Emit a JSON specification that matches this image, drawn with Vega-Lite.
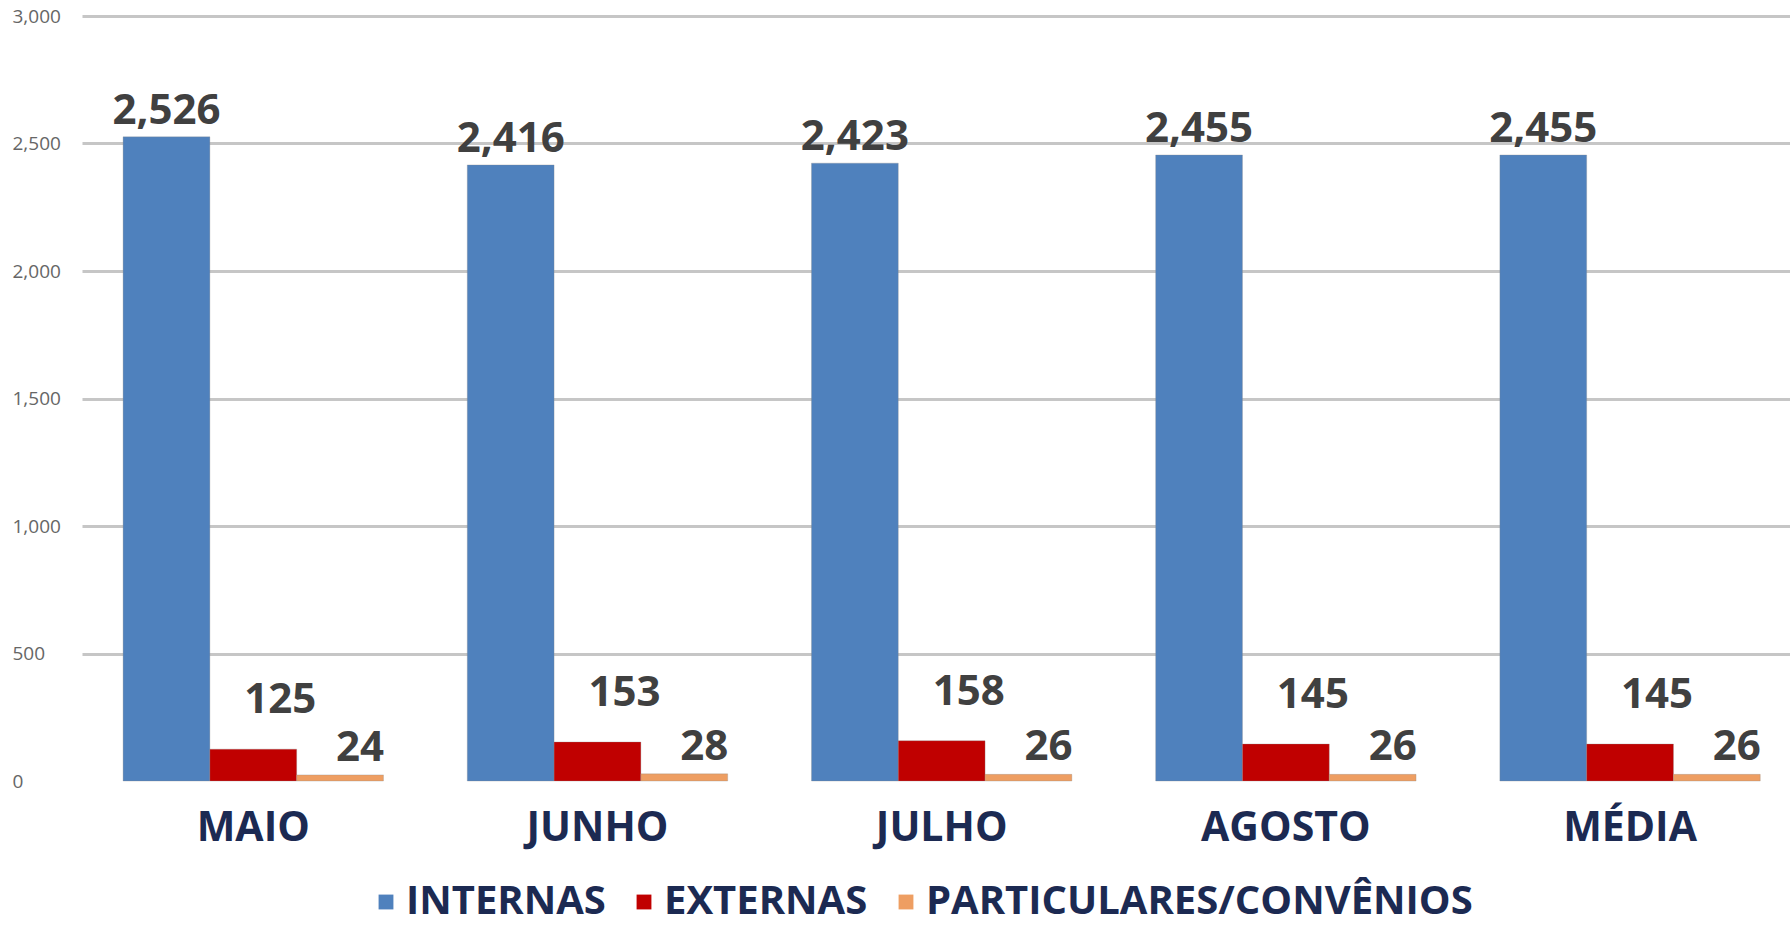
{
  "$schema": "https://vega.github.io/schema/vega-lite/v6.json",
  "width": 1708,
  "height": 765,
  "autosize": {"type": "none"},
  "padding": {"left": 82, "top": 16, "right": 0, "bottom": 151},
  "background": "white",
  "config": {
    "view": {"stroke": null},
    "font": "Open Sans"
  },
  "data": {
    "values": [
      {"mes": "MAIO", "serie": "INTERNAS", "valor": 2526},
      {"mes": "MAIO", "serie": "EXTERNAS", "valor": 125},
      {"mes": "MAIO", "serie": "PARTICULARES/CONVÊNIOS", "valor": 24},
      {"mes": "JUNHO", "serie": "INTERNAS", "valor": 2416},
      {"mes": "JUNHO", "serie": "EXTERNAS", "valor": 153},
      {"mes": "JUNHO", "serie": "PARTICULARES/CONVÊNIOS", "valor": 28},
      {"mes": "JULHO", "serie": "INTERNAS", "valor": 2423},
      {"mes": "JULHO", "serie": "EXTERNAS", "valor": 158},
      {"mes": "JULHO", "serie": "PARTICULARES/CONVÊNIOS", "valor": 26},
      {"mes": "AGOSTO", "serie": "INTERNAS", "valor": 2455},
      {"mes": "AGOSTO", "serie": "EXTERNAS", "valor": 145},
      {"mes": "AGOSTO", "serie": "PARTICULARES/CONVÊNIOS", "valor": 26},
      {"mes": "MÉDIA", "serie": "INTERNAS", "valor": 2455},
      {"mes": "MÉDIA", "serie": "EXTERNAS", "valor": 145},
      {"mes": "MÉDIA", "serie": "PARTICULARES/CONVÊNIOS", "valor": 26}
    ]
  },
  "encoding": {
    "x": {
      "field": "mes",
      "type": "nominal",
      "sort": ["MAIO", "JUNHO", "JULHO", "AGOSTO", "MÉDIA"],
      "scale": {"paddingInner": 0.2435, "paddingOuter": 0.1029, "align": 0.58},
      "axis": {
        "title": null,
        "domain": false,
        "ticks": false,
        "labelAngle": 0,
        "labelFont": "Open Sans",
        "labelFontWeight": "bold",
        "labelFontSize": 41,
        "labelColor": "#1C2A52",
        "labelPadding": 27
      }
    },
    "xOffset": {
      "field": "serie",
      "type": "nominal",
      "scale": {"domain": ["INTERNAS", "EXTERNAS", "PARTICULARES/CONVÊNIOS"], "paddingInner": 0, "paddingOuter": 0}
    },
    "y": {
      "field": "valor",
      "type": "quantitative",
      "scale": {"domain": [0, 3000], "nice": false},
      "axis": {
        "title": null,
        "values": [0, 500, 1000, 1500, 2000, 2500, 3000],
        "format": ",d",
        "domain": false,
        "ticks": false,
        "labelAlign": "left",
        "labelPadding": 70,
        "labelFont": "Open Sans",
        "labelFontSize": 19,
        "labelColor": "#666666",
        "gridColor": "#C6C6C6",
        "gridWidth": 3,
        "gridOpacity": {"condition": {"test": "datum.value === 0", "value": 0}, "value": 1}
      }
    }
  },
  "layer": [
    {
      "mark": {"type": "bar", "stroke": "#8a8a8a", "strokeWidth": 0.6, "strokeOpacity": 0.5},
      "encoding": {
        "color": {
          "field": "serie",
          "type": "nominal",
          "scale": {
            "domain": ["INTERNAS", "EXTERNAS", "PARTICULARES/CONVÊNIOS"],
            "range": ["#4F81BD", "#C00000", "#EE9E62"]
          },
          "legend": {
            "title": null,
            "orient": "none",
            "legendX": 284,
            "legendY": 866,
            "direction": "horizontal",
            "symbolType": "square",
            "symbolSize": 220,
            "symbolStrokeWidth": 0,
            "labelFont": "Open Sans",
            "labelFontWeight": "bold",
            "labelFontSize": 40,
            "labelColor": "#1C2A52",
            "labelLimit": 1000,
            "labelOffset": 0,
            "columnPadding": 18
          }
        }
      }
    },
    {
      "transform": [{"filter": "datum.serie === 'INTERNAS'"}],
      "mark": {"type": "text", "baseline": "alphabetic", "dy": -13, "font": "Open Sans", "fontWeight": "bold", "fontSize": 42, "color": "#404040"},
      "encoding": {"text": {"field": "valor", "type": "quantitative", "format": ",d"}}
    },
    {
      "transform": [{"filter": "datum.serie === 'EXTERNAS'"}],
      "mark": {"type": "text", "baseline": "alphabetic", "dy": -36, "dx": 27, "font": "Open Sans", "fontWeight": "bold", "fontSize": 42, "color": "#404040"},
      "encoding": {"text": {"field": "valor", "type": "quantitative", "format": ",d"}}
    },
    {
      "transform": [{"filter": "datum.serie === 'PARTICULARES/CONVÊNIOS'"}],
      "mark": {"type": "text", "baseline": "alphabetic", "dy": -14, "dx": 20, "font": "Open Sans", "fontWeight": "bold", "fontSize": 42, "color": "#404040"},
      "encoding": {"text": {"field": "valor", "type": "quantitative", "format": ",d"}}
    }
  ]
}
